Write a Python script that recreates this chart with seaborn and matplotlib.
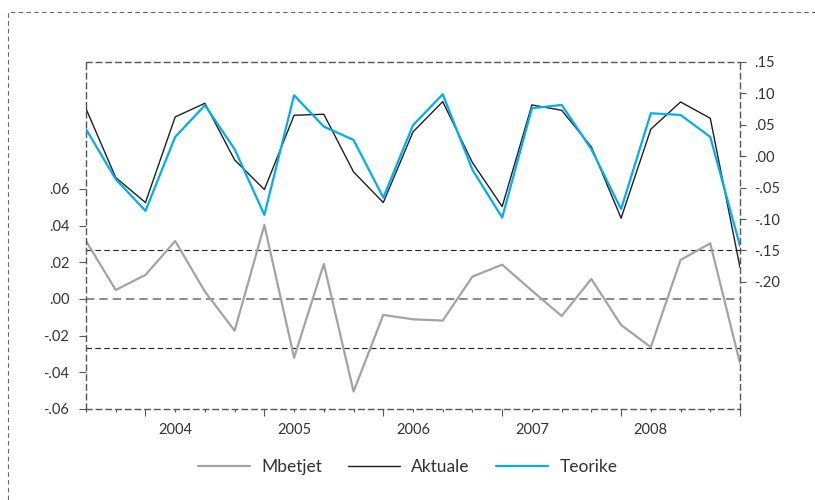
import matplotlib
matplotlib.use("Agg")
import matplotlib.pyplot as plt
from matplotlib.patches import Rectangle
from matplotlib.ticker import FixedLocator, FuncFormatter
import seaborn as sns
import pandas as pd

# quarterly data 2003Q2 - 2008Q4
quarters = pd.period_range("2003Q2", "2008Q4", freq="Q").astype(str).tolist()

mbetjet = [0.0316, 0.0049, 0.0131, 0.0316, 0.0040, -0.0173, 0.0403, -0.0320,
           0.0191, -0.0505, -0.0087, -0.0111, -0.0118, 0.0122, 0.0187, 0.0045,
           -0.0093, 0.0109, -0.0142, -0.0263, 0.0213, 0.0303, -0.0350]
aktuale = [0.0757, -0.0340, -0.0738, 0.0625, 0.0843, -0.0059, -0.0531, 0.0652,
           0.0668, -0.0250, -0.0738, 0.0387, 0.0869, -0.0102, -0.0802, 0.0816,
           0.0732, 0.0148, -0.0986, 0.0430, 0.0864, 0.0604, -0.1770]
teorike = [0.0430, -0.0366, -0.0870, 0.0307, 0.0811, 0.0111, -0.0934, 0.0970,
           0.0471, 0.0259, -0.0659, 0.0493, 0.0986, -0.0218, -0.0977, 0.0764,
           0.0816, 0.0111, -0.0843, 0.0684, 0.0657, 0.0307, -0.1427]

year_labels = ["2004", "2005", "2006", "2007", "2008"]
resid_se = 0.0266

left_ticks = [-0.06, -0.04, -0.02, 0.00, 0.02, 0.04, 0.06]
right_ticks = [-0.20, -0.15, -0.10, -0.05, 0.00, 0.05, 0.10, 0.15]

df = pd.DataFrame({"t": range(len(quarters)), "q": quarters,
                   "Mbetjet": mbetjet, "Aktuale": aktuale, "Teorike": teorike})

sns.set_theme(style="white")
plt.rcParams["font.family"] = ["Lato", "DejaVu Sans"]
plt.rcParams["text.color"] = "#333333"
plt.rcParams["xtick.color"] = "#333333"
plt.rcParams["ytick.color"] = "#333333"

GRAY = "#a3a3a6"
BLUE = "#00aeef"
BLACK = "#1e1e1e"
FRAME = "#555555"

fig = plt.figure(figsize=(8.15, 5.0), dpi=100)
ax = fig.add_axes([86 / 815, 1 - 409 / 500, (740 - 86) / 815, (409 - 62) / 500])
ax2 = ax.twinx()

# residuals on left axis
sns.lineplot(data=df, x="t", y="Mbetjet", ax=ax, color=GRAY, linewidth=1.6,
             label="Mbetjet", legend=False)
ax.axhline(resid_se, color="#222222", lw=0.8, ls=(0, (5, 3)), zorder=1)
ax.axhline(-resid_se, color="#222222", lw=0.8, ls=(0, (5, 3)), zorder=1)
ax.axhline(0, color="#777777", lw=1.2, ls=(0, (5, 3)), zorder=1)

# actual / fitted on right axis
sns.lineplot(data=df, x="t", y="Aktuale", ax=ax2, color=BLACK, linewidth=1.0,
             label="Aktuale", legend=False)
sns.lineplot(data=df, x="t", y="Teorike", ax=ax2, color=BLUE, linewidth=1.6,
             label="Teorike", legend=False)

n = len(quarters)
ax.set_xlim(0, n - 1)
ax.set_ylim(-0.06, 0.1292)
ax2.set_ylim(-0.4025, 0.15)

fmt = FuncFormatter(lambda v, p: f"{v:.2f}".replace("0.", "."))
ax.yaxis.set_major_locator(FixedLocator(left_ticks))
ax.yaxis.set_major_formatter(fmt)
ax2.yaxis.set_major_locator(FixedLocator(right_ticks))
ax2.yaxis.set_major_formatter(fmt)

# x ticks: one per quarter, longer ones at year end (Q4)
q4_pos = [i for i, q in enumerate(quarters) if q.endswith("Q4")]
q1_pos = [i for i, q in enumerate(quarters) if q.endswith("Q1")]
ax.set_xticks(q4_pos)
ax.set_xticklabels([])
ax.set_xticks(range(n), minor=True)
ax.tick_params(axis="x", which="major", direction="out", length=5, width=0.8, color=FRAME, bottom=True)
ax.tick_params(axis="x", which="minor", direction="out", length=2.5, width=0.8, color=FRAME, bottom=True)

sec = ax.secondary_xaxis("bottom")
sec.set_xticks(q1_pos, labels=year_labels)
sec.tick_params(length=0, pad=10, labelsize=10.5, labelcolor="#333333")
sec.spines["bottom"].set_visible(False)

ax.tick_params(axis="y", direction="out", length=5, width=0.8, color=FRAME,
               left=True, labelsize=10.5, pad=7)
ax2.tick_params(axis="y", direction="out", length=4, width=0.8, color=FRAME,
                right=True, labelsize=10.5, pad=6)
ax.set_xlabel("")
ax.set_ylabel("")
ax2.set_ylabel("")

for s in ax.spines.values():
    s.set_visible(True)
    s.set_linestyle((0, (4, 3)))
    s.set_color(FRAME)
    s.set_linewidth(1.0)
for s in ax2.spines.values():
    s.set_visible(False)

# outer dashed frame (extends beyond the image on right/bottom)
fig.patches.append(Rectangle((8 / 815, -0.2), 1.2, 1.2 - 12 / 500, transform=fig.transFigure,
                             fill=False, ls=(0, (4, 3)), lw=0.8, ec="#666666"))

h1, l1 = ax.get_legend_handles_labels()
h2, l2 = ax2.get_legend_handles_labels()
fig.legend(h1 + h2, l1 + l2, loc="center", bbox_to_anchor=(0.5, 1 - 467 / 500), ncol=3,
           frameon=False, fontsize=12.5, handlelength=3.0, columnspacing=1.5, handletextpad=0.65)

fig.savefig("out.png", dpi=100)
